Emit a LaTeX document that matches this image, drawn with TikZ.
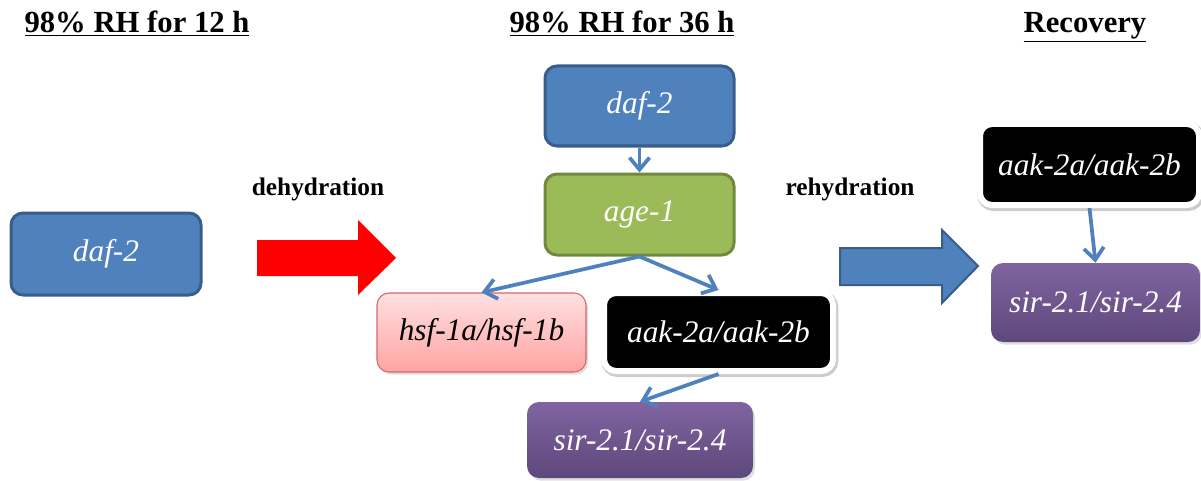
\documentclass[tikz,border=0pt]{standalone}
\usepackage{fontspec}
\setmainfont{Liberation Serif}
\usetikzlibrary{arrows.meta,shadows}
\definecolor{dafblue}{RGB}{79,129,189}
\definecolor{dafedge}{RGB}{56,93,138}
\definecolor{agegreen}{RGB}{155,187,89}
\definecolor{ageedge}{RGB}{113,137,63}
\definecolor{hsftop}{RGB}{255,224,224}
\definecolor{hsfbot}{RGB}{255,163,163}
\definecolor{hsfedge}{RGB}{214,104,102}
\definecolor{sirtop}{RGB}{128,100,162}
\definecolor{sirbot}{RGB}{94,72,122}
\tikzset{
  gene/.style={rounded corners=9pt, inner sep=0pt, text=white,
    font=\fontsize{23.5}{28}\selectfont\itshape},
  soft/.style={drop shadow={shadow xshift=1.5pt, shadow yshift=-2pt, opacity=0.25}},
  bluegene/.style={gene, fill=dafblue, draw=dafedge, line width=2.25pt},
  greengene/.style={gene, fill=agegreen, draw=ageedge, line width=2.25pt},
  pinkgene/.style={gene, soft, top color=hsftop, bottom color=hsfbot,
    draw=hsfedge, line width=0.8pt, text=black},
  blackgene/.style={gene, drop shadow={shadow xshift=1pt, shadow yshift=-1.5pt, opacity=0.2,
      draw=black, line width=6pt},
    fill=black, draw=white, line width=4.5pt},
  purplegene/.style={gene, soft, top color=sirtop, bottom color=sirbot},
  stage/.style={font=\fontsize{23}{28}\selectfont\bfseries, anchor=base},
  step label/.style={font=\fontsize{19}{23}\selectfont\bfseries, anchor=base},
  link/.style={dafblue, line width=2.8pt, -{Straight Barb[length=9pt,width=15pt]}}
}
\begin{document}
\begin{tikzpicture}[x=0.75pt, y=-0.75pt]
  \useasboundingbox (0,0) rectangle (1201,481);
  % headings
  \node[stage] at (137,33) (T1) {\underline{98\% RH for 12 h}};
  \node[stage] at (622,33) (T2) {\underline{98\% RH for 36 h}};
  \node[stage] at (1085,33) (T3) {\underline{Recovery}};
  \node[step label] at (318,195) (D) {dehydration};
  \node[step label] at (850,195) (R) {rehydration};
  % 12 h
  \node[bluegene, minimum width=142.5pt, minimum height=61.5pt] at (106,254) (L1) {daf-2};
  \fill[red] (257,240) -- (358,240) -- (358,220) -- (396,258) -- (358,295)
    -- (358,276) -- (257,276) -- cycle;
  % 36 h
  \node[bluegene, minimum width=141.75pt, minimum height=60pt] at (639.5,106) (M1) {daf-2};
  \node[greengene, minimum width=141.75pt, minimum height=60.75pt] at (639.5,214.5) (M2) {age-1};
  \node[pinkgene, minimum width=156.75pt, minimum height=59.25pt] at (481.5,332.5) (M3) {hsf-1a/hsf-1b};
  \node[blackgene, minimum width=171.75pt, minimum height=58.5pt] at (718.5,332) (M4) {aak-2a/aak-2b};
  \node[purplegene, minimum width=169.5pt, minimum height=57pt] at (640,440) (M5) {sir-2.1/sir-2.4};
  \draw[link] (M1) -- (M2);
  \draw[link] (M2.south) -- (M3.north);
  \draw[link] (M2.south) -- (M4.north);
  \draw[link] (M4.south) -- (M5.north);
  % recovery
  \filldraw[fill=dafblue, draw=dafedge, line width=1.5pt] (840,248) -- (942,248) -- (942,230)
    -- (978,266) -- (942,303) -- (942,285) -- (840,285) -- cycle;
  \node[blackgene, minimum width=164.25pt, minimum height=60.75pt] at (1089.5,164.5) (R1) {aak-2a/aak-2b};
  \node[purplegene, minimum width=156.75pt, minimum height=59.25pt] at (1095.5,302.5) (R2) {sir-2.1/sir-2.4};
  \draw[link] (R1.south) -- (R2.north);
\end{tikzpicture}
\end{document}
